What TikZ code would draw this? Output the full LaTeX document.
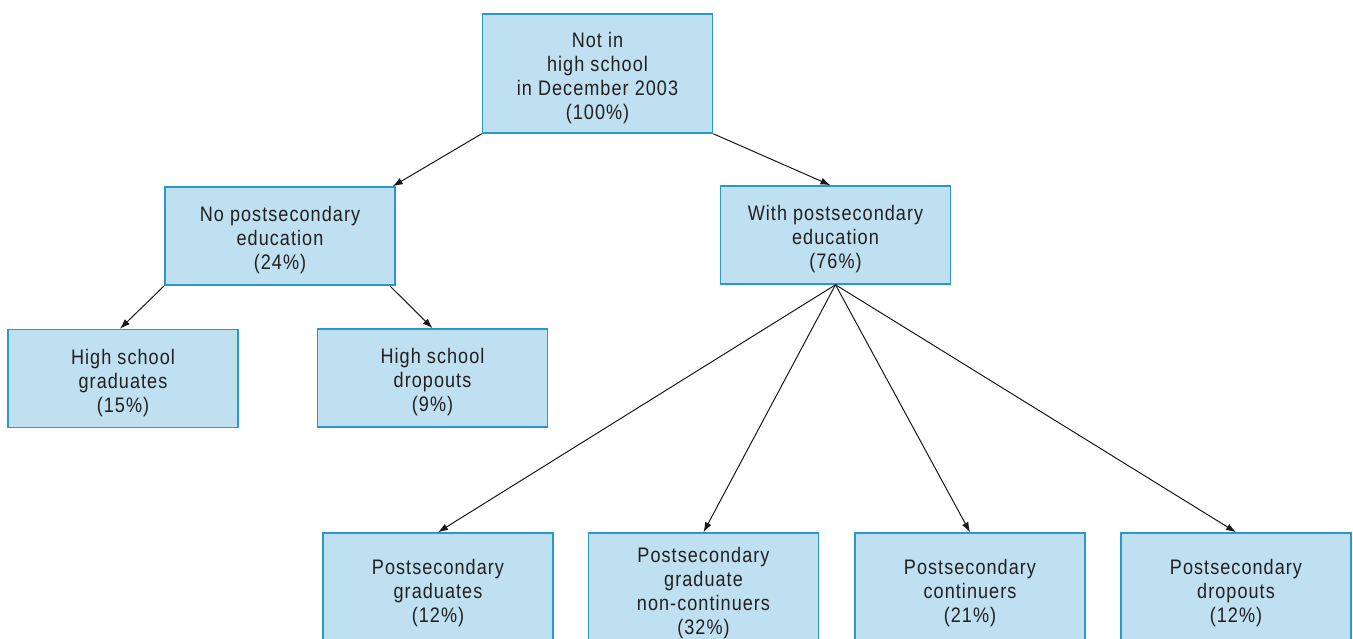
\documentclass[tikz,border=0pt]{standalone}
\usepackage{fontspec}
\setmainfont[FakeStretch=0.86, LetterSpace=5]{Liberation Sans}
\usetikzlibrary{positioning, arrows.meta}
\definecolor{boxfill}{RGB}{190,224,240}
\definecolor{boxline}{RGB}{42,152,204}
\definecolor{boxtext}{RGB}{35,31,32}
\newcommand{\lowered}{\rule{0pt}{24pt}}
\tikzset{
	stage/.style={
		draw=boxline,
		fill=boxfill,
		line width=1.5pt,
		text=boxtext,
		align=center,
		inner sep=0pt,
		minimum width=230pt,
		minimum height=98pt,
		font=\fontsize{21}{24}\selectfont
	},
	link/.style={
		->,
		>={Latex[length=10pt,width=7pt]},
		line width=1pt,
		black!90
	}
}
\begin{document}
\begin{tikzpicture}[x=1pt, y=-1pt]
		\clip (0,0) rectangle (1353,638);
		\fill[white] (0,0) rectangle (1353,638);

		% top level
		\node[stage, minimum height=119pt] (start) at (597.5,73.5) {\lowered Not in\\high school\\in December 2003\\(100\%)};

		% second level
		\node[stage] (nopost) at (280,236) {\lowered No postsecondary\\education\\(24\%)};
		\node[stage] (withpost) at (835.5,235) {\lowered With postsecondary\\education\\(76\%)};

		% no postsecondary branch
		\node[stage] (hsgrad) at (123,378.5) {\lowered High school\\graduates\\(15\%)};
		\node[stage] (hsdrop) at (432.5,378) {\lowered High school\\dropouts\\(9\%)};

		% postsecondary branch
		\node[stage, minimum height=112pt] (psgrad) at (438,589) {\lowered Postsecondary\\graduates\\(12\%)};
		\node[stage, minimum height=112pt] (psnoncont) at (703.5,589) {\lowered Postsecondary\\graduate\\non-continuers\\(32\%)};
		\node[stage, minimum height=112pt] (pscont) at (970,589) {\lowered Postsecondary\\continuers\\(21\%)};
		\node[stage, minimum height=112pt] (psdrop) at (1236,589) {\lowered Postsecondary\\dropouts\\(12\%)};

		% connections
		\begin{scope}[link]
		\draw (start.south west) -- ([xshift=-3pt]nopost.north east);
		\draw (start.south east) -- ([xshift=-5pt]withpost.north);
		\draw (nopost.south west) -- ([xshift=-3pt]hsgrad.north);
		\draw ([xshift=-6pt]nopost.south east) -- (hsdrop.north);
		\foreach \done in {psgrad, psnoncont, pscont, psdrop} {
			\draw (withpost.south) -- (\done.north);
		}
		\end{scope}
\end{tikzpicture}
\end{document}
